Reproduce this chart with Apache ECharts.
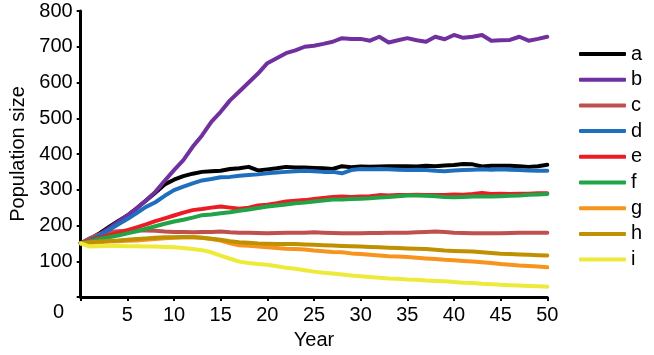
<!DOCTYPE html>
<html><head><meta charset="utf-8">
<script src="https://cdn.jsdelivr.net/npm/echarts@6/dist/echarts.min.js"></script>
<style>html,body{margin:0;padding:0;background:#fff}#c{width:654px;height:355px}</style>
</head><body><div id="c"></div>
<script>
const years = [0,1,2,3,4,5,6,7,8,9,10,11,12,13,14,15,16,17,18,19,20,21,22,23,24,25,26,27,28,29,30,31,32,33,34,35,36,37,38,39,40,41,42,43,44,45,46,47,48,49,50];
const names = ['a','b','c','d','e','f','g','h','i'];
const colors = ['#000000','#7030a0','#c0504d','#1f6fbf','#ec1c24','#21a348','#f7941d','#bf9000','#eeea3a'];
const a = [150,163,178,195,212,228,248,270,292,315,328,338,345,350,352,353,358,360,364,354,357,360,364,362,362,361,360,358,366,363,365,364,365,366,366,366,365,367,366,368,369,372,371,365,367,367,367,366,364,366,370];
const b = [150,160,175,192,210,228,248,270,294,325,355,383,420,452,490,518,550,575,600,625,654,668,682,690,700,703,708,714,724,722,722,717,728,712,718,724,718,714,728,721,733,725,728,733,717,718,719,728,717,722,728];
const c = [150,165,175,182,184,185,186,186,185,183,182,182,181,182,182,183,181,180,180,179,178,179,180,180,180,181,180,179,178,178,178,179,179,180,180,180,181,182,183,182,180,179,178,178,178,178,179,180,180,180,180];
const d = [150,160,172,187,203,218,235,252,265,283,299,309,318,326,330,335,336,339,341,343,346,348,350,352,353,352,350,350,346,355,358,357,358,357,356,355,356,355,353,352,354,355,356,357,356,357,356,355,354,353,353];
const e = [150,158,165,172,180,187,195,203,212,220,228,236,243,246,250,253,250,247,250,256,258,262,267,269,271,274,277,280,281,280,281,282,285,284,285,285,286,285,285,285,287,286,288,291,288,289,288,289,289,290,290];
const f = [150,156,162,167,172,178,184,191,198,205,211,216,222,229,231,234,237,241,245,249,253,256,259,262,264,267,270,273,273,274,275,276,278,280,282,284,284,283,282,280,279,280,281,281,281,282,283,284,286,287,288];
const g = [150,152,153,155,156,157,158,160,162,164,166,167,168,166,162,158,150,145,143,141,139,137,135,134,133,130,128,126,125,122,120,118,116,114,113,112,110,108,106,104,103,101,99,97,95,92,90,88,87,85,83];
const h = [150,153,155,157,158,160,162,164,166,167,167,168,167,166,163,160,156,153,152,150,149,148,148,148,147,146,145,144,143,142,141,140,139,138,137,136,135,134,132,130,129,128,127,125,123,121,120,119,118,117,116];
const i = [150,141,142,143,143,142,142,141,141,140,139,137,134,131,125,116,107,99,95,92,90,86,82,79,75,71,68,66,63,60,58,56,54,52,51,49,48,46,45,44,42,40,39,37,36,34,33,32,31,30,29];
const seriesValues = [a,b,c,d,e,f,g,h,i];
const font = '"Liberation Sans", Arial, sans-serif';

const chart = echarts.init(document.getElementById('c'));
chart.setOption({
  animation: false,
  backgroundColor: '#fff',
  grid: {left: 80.7, right: 106.7, top: 11, bottom: 58},
  legend: {
    orient: 'vertical', left: 574, top: 39,
    itemWidth: 47, itemHeight: 4, itemGap: 5.7,
    icon: 'roundRect',
    textStyle: {fontFamily: font, fontSize: 20, color: '#000', lineHeight: 20},
    data: names
  },
  graphic: [{type: 'text', left: 53, top: 302, style: {text: '0', font: '20px ' + font, fill: '#000'}}],
  xAxis: {
    type: 'value', min: 0, max: 50, interval: 5,
    name: 'Year', nameLocation: 'middle', nameGap: 33,
    nameTextStyle: {fontFamily: font, fontSize: 20, color: '#000'},
    axisLine: {onZero: false, lineStyle: {color: '#000', width: 3}},
    axisTick: {show: true, length: 4, lineStyle: {color: '#000', width: 2}},
    axisLabel: {fontFamily: font, fontSize: 20, color: '#000', margin: 8,
      formatter: v => v === 0 ? '' : String(v)},
    splitLine: {show: false}
  },
  yAxis: {
    type: 'value', min: 0, max: 800, interval: 100,
    name: 'Population size', nameLocation: 'middle', nameGap: 52,
    nameTextStyle: {fontFamily: font, fontSize: 20, color: '#000'},
    axisLine: {show: true, lineStyle: {color: '#000', width: 3}},
    axisTick: {show: true, length: 4, lineStyle: {color: '#000', width: 2}},
    axisLabel: {fontFamily: font, fontSize: 20, color: '#000', margin: 8,
      formatter: v => v === 0 ? '' : String(v)},
    splitLine: {show: false}
  },
  series: names.map((n, k) => ({
    name: n, type: 'line', showSymbol: false, symbol: 'none',
    color: colors[k],
    lineStyle: {width: 4, color: colors[k], cap: 'round', join: 'round'},
    data: years.map((y, j) => [y, seriesValues[k][j]])
  }))
});
</script></body></html>
